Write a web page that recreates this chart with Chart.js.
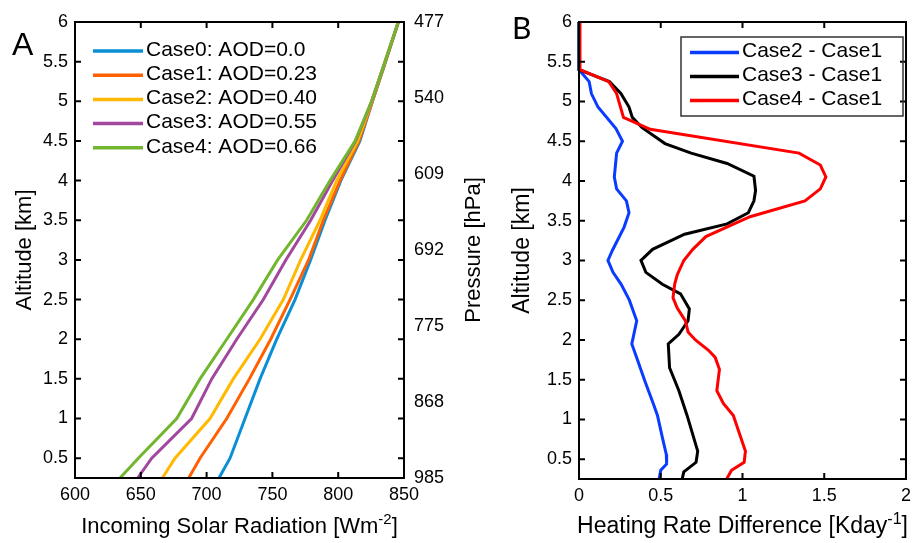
<!DOCTYPE html>
<html>
<head>
<meta charset="utf-8">
<script src="https://cdn.jsdelivr.net/npm/chart.js@4"></script>
<style>
  body { margin: 0; background: #fff; }
  #wrap { position: relative; width: 917px; height: 543px; overflow: hidden; }
  canvas { position: absolute; top: 0; }
  #chartA { left: 0; }
  #chartB { left: 495px; }
</style>
</head>
<body>
<div id="wrap">
  <canvas id="chartA" width="500" height="543"></canvas>
  <canvas id="chartB" width="422" height="543"></canvas>
</div>
<script>
// ---- panel A: incoming solar radiation vs altitude ----
const altA = [0.25, 0.5, 1, 1.5, 2, 2.5, 3, 3.5, 4, 4.5, 5, 5.5, 6];
const case0 = [709.4, 717.8, 729.2, 740.6, 753.3, 767.2, 779.0, 790.0, 802.0, 816.5, 826.0, 836.0, 845.7];
const case1 = [686.4, 695.0, 715.3, 732.5, 748.7, 763.4, 777.5, 788.7, 801.4, 815.8, 826.0, 836.0, 845.7];
const case2 = [666.4, 676.0, 702.6, 720.3, 740.6, 758.3, 771.5, 786.2, 798.8, 814.8, 825.5, 835.5, 845.7];
const case3 = [647.6, 658.3, 688.6, 703.9, 722.9, 743.1, 760.2, 779.1, 795.8, 813.2, 825.4, 835.6, 845.7];
const case4 = [634.2, 648.1, 677.3, 695.0, 715.3, 735.5, 754.0, 776.0, 793.8, 812.8, 825.4, 835.6, 845.7];
const labelsA = ['Case0: AOD=0.0', 'Case1: AOD=0.23', 'Case2: AOD=0.40', 'Case3: AOD=0.55', 'Case4: AOD=0.66'];
const colorsA = ['#0a8fd6', '#ff6100', '#ffb900', '#a2479e', '#72b62f'];
const altTicks = [0.5, 1, 1.5, 2, 2.5, 3, 3.5, 4, 4.5, 5, 5.5, 6];
const pressureLabels = ['477', '540', '609', '692', '775', '868', '985'];

// ---- panel B: heating rate differences ----
const altB2 = [6, 5.4, 5.25, 5.1, 4.93, 4.66, 4.5, 4.35, 4.05, 3.9, 3.75, 3.6, 3.42, 3.125, 3.0, 2.85, 2.7, 2.5, 2.24, 1.95, 1.74, 1.5, 1.2, 1.05, 0.77, 0.56, 0.44, 0.36, 0.25];
const diff21 = [0, 0, 0.062, 0.076, 0.116, 0.226, 0.266, 0.23, 0.216, 0.23, 0.29, 0.306, 0.276, 0.204, 0.177, 0.208, 0.258, 0.308, 0.353, 0.323, 0.359, 0.4, 0.454, 0.48, 0.51, 0.534, 0.536, 0.5, 0.49];
const altB3 = [6, 5.4, 5.25, 5.1, 4.93, 4.8, 4.67, 4.47, 4.35, 4.22, 4.06, 3.88, 3.75, 3.6, 3.46, 3.33, 3.14, 3.0, 2.85, 2.7, 2.58, 2.39, 2.24, 2.07, 1.95, 1.65, 1.36, 1.05, 0.6, 0.46, 0.34, 0.25];
const diff31 = [0, 0, 0.186, 0.256, 0.306, 0.326, 0.386, 0.526, 0.686, 0.906, 1.07, 1.08, 1.07, 1.036, 0.906, 0.646, 0.45, 0.379, 0.409, 0.51, 0.621, 0.675, 0.667, 0.611, 0.546, 0.554, 0.611, 0.661, 0.726, 0.716, 0.641, 0.631];
const altB4 = [6, 5.4, 5.25, 5.1, 4.8, 4.65, 4.35, 4.2, 4.05, 3.9, 3.75, 3.55, 3.3, 3.14, 3.0, 2.82, 2.7, 2.53, 2.4, 2.24, 2.1, 2.0, 1.87, 1.78, 1.63, 1.36, 1.2, 1.05, 0.77, 0.6, 0.46, 0.36, 0.25];
const diff41 = [0.006, 0.006, 0.182, 0.23, 0.272, 0.436, 1.346, 1.476, 1.51, 1.476, 1.382, 1.046, 0.776, 0.696, 0.641, 0.601, 0.585, 0.575, 0.601, 0.651, 0.667, 0.712, 0.792, 0.833, 0.859, 0.843, 0.883, 0.944, 0.99, 1.018, 1.01, 0.933, 0.903];
const labelsB = ['Case2 - Case1', 'Case3 - Case1', 'Case4 - Case1'];
const colorsB = ['#0a3cff', '#000000', '#ff0000'];

const FONT = '"Liberation Sans", Arial, Helvetica, sans-serif';

const pts = (xs, ys) => xs.map((v, i) => ({ x: v, y: ys[i] }));

// box, inward ticks, titles, legend, panel letter
const frame = {
  id: 'frame',
  afterDraw(chart, args, o) {
    const { ctx, chartArea: a } = chart;
    const sx = chart.scales.x, sy = chart.scales.y;
    ctx.save();
    ctx.strokeStyle = '#000';
    ctx.lineWidth = 2;
    ctx.beginPath();
    sx.ticks.forEach(t => {
      const p = sx.getPixelForValue(t.value);
      ctx.moveTo(p, a.bottom); ctx.lineTo(p, a.bottom - 6);
      ctx.moveTo(p, a.top); ctx.lineTo(p, a.top + 6);
    });
    sy.ticks.forEach(t => {
      const p = sy.getPixelForValue(t.value);
      ctx.moveTo(a.left, p); ctx.lineTo(a.left + 6, p);
      ctx.moveTo(a.right, p); ctx.lineTo(a.right - 6, p);
    });
    ctx.stroke();
    ctx.strokeRect(a.left, a.top, a.right - a.left, a.bottom - a.top);

    ctx.fillStyle = '#000';
    // x title with superscript
    const main = o.titleSize + 'px ' + FONT, small = Math.round(o.titleSize * 0.68) + 'px ' + FONT;
    let w = 0;
    o.xTitle.forEach(p => { ctx.font = p.sup ? small : main; w += ctx.measureText(p.t).width; });
    let x = (a.left + a.right) / 2 - w / 2;
    ctx.textAlign = 'left';
    ctx.textBaseline = 'alphabetic';
    o.xTitle.forEach(p => {
      ctx.font = p.sup ? small : main;
      ctx.fillText(p.t, x, p.sup ? o.xTitleY - 9 : o.xTitleY);
      x += ctx.measureText(p.t).width;
    });
    // rotated y titles
    ctx.font = main;
    ctx.textAlign = 'center';
    ctx.textBaseline = 'middle';
    o.yTitles.forEach(t => {
      ctx.save();
      ctx.translate(t.x, (a.top + a.bottom) / 2);
      ctx.rotate(-Math.PI / 2);
      ctx.fillText(t.text, 0, 0);
      ctx.restore();
    });
    // legend
    const lg = o.legend;
    if (lg.box) {
      ctx.lineWidth = 1.5;
      ctx.strokeStyle = '#333';
      ctx.strokeRect(lg.box[0], lg.box[1], lg.box[2], lg.box[3]);
    }
    ctx.font = '21px ' + FONT;
    ctx.textAlign = 'left';
    chart.data.datasets.forEach((d, i) => {
      const yy = lg.y + i * lg.step;
      ctx.strokeStyle = d.borderColor;
      ctx.lineWidth = 3.5;
      ctx.beginPath();
      ctx.moveTo(lg.x, yy); ctx.lineTo(lg.x + lg.len, yy);
      ctx.stroke();
      ctx.fillText(d.label, lg.x + lg.len + 3, yy - 1);
    });
    // panel letter
    ctx.font = o.letter.font;
    ctx.textBaseline = 'alphabetic';
    ctx.fillText(o.letter.text, o.letter.x, o.letter.y);
    ctx.restore();
  }
};

const tickFont = { family: FONT, size: 18 };
const fixed = size => (s => { if (s.isHorizontal()) s.height = size; else s.width = size; });

new Chart(document.getElementById('chartA'), {
  type: 'scatter',
  data: {
    datasets: [case0, case1, case2, case3, case4].map((vals, i) => ({
      label: labelsA[i],
      data: pts(vals, altA),
      showLine: true,
      borderColor: colorsA[i],
      borderWidth: 3,
      pointRadius: 0,
      clip: false,
      order: 4 - i
    }))
  },
  options: {
    responsive: false,
    animation: false,
    devicePixelRatio: 1,
    layout: { padding: { top: 22, left: 0, right: 0, bottom: 0 } },
    plugins: {
      legend: { display: false },
      tooltip: { enabled: false },
      frame: {
        titleSize: 22,
        xTitle: [{ t: 'Incoming Solar Radiation [Wm' }, { t: '-2', sup: true }, { t: ']' }],
        xTitleY: 533,
        yTitles: [{ text: 'Altitude [km]', x: 25 }, { text: 'Pressure [hPa]', x: 474 }],
        legend: { x: 93, y: 51, step: 24.2, len: 50 },
        letter: { text: 'A', x: 12, y: 55, font: '32px ' + FONT }
      }
    },
    scales: {
      x: {
        type: 'linear', position: 'bottom', min: 600, max: 850,
        ticks: { stepSize: 50, font: tickFont, color: '#000', padding: 6, maxRotation: 0, callback: v => String(v) },
        grid: { display: false, drawTicks: false }, border: { display: false },
        afterFit: fixed(65)
      },
      y: {
        type: 'linear', position: 'left', min: 0.25, max: 6,
        afterBuildTicks: s => { s.ticks = altTicks.map(v => ({ value: v })); },
        ticks: { font: tickFont, color: '#000', padding: 7, callback: v => String(v) },
        grid: { display: false, drawTicks: false }, border: { display: false },
        afterFit: fixed(75)
      },
      y2: {
        type: 'linear', position: 'right', min: 0, max: 6,
        afterBuildTicks: s => { s.ticks = pressureLabels.map((p, i) => ({ value: 6 - i })); },
        ticks: { font: tickFont, color: '#000', padding: 10, callback: v => pressureLabels[6 - v] },
        grid: { display: false, drawTicks: false }, border: { display: false },
        afterFit: fixed(96)
      }
    }
  },
  plugins: [frame]
});

new Chart(document.getElementById('chartB'), {
  type: 'scatter',
  data: {
    datasets: [[diff21, altB2], [diff31, altB3], [diff41, altB4]].map((s, i) => ({
      label: labelsB[i],
      data: pts(s[0], s[1]),
      showLine: true,
      borderColor: colorsB[i],
      borderWidth: 3,
      pointRadius: 0,
      clip: false,
      order: 2 - i
    }))
  },
  options: {
    responsive: false,
    animation: false,
    devicePixelRatio: 1,
    layout: { padding: { top: 22, left: 0, right: 8, bottom: 0 } },
    plugins: {
      legend: { display: false },
      tooltip: { enabled: false },
      frame: {
        titleSize: 23,
        xTitle: [{ t: 'Heating Rate Difference [Kday' }, { t: '-1', sup: true }, { t: ']' }],
        xTitleY: 533,
        yTitles: [{ text: 'Altitude [km]', x: 28 }],
        legend: { x: 195, y: 52.5, step: 24, len: 49, box: [186, 37, 222, 79] },
        letter: { text: 'B', x: 17, y: 39, font: '30px Lato, "Open Sans", sans-serif' }
      }
    },
    scales: {
      x: {
        type: 'linear', position: 'bottom', min: 0, max: 2,
        ticks: { stepSize: 0.5, font: tickFont, color: '#000', padding: 6, maxRotation: 0, callback: v => String(v) },
        grid: { display: false, drawTicks: false }, border: { display: false },
        afterFit: fixed(64)
      },
      y: {
        type: 'linear', position: 'left', min: 0.25, max: 6,
        afterBuildTicks: s => { s.ticks = altTicks.map(v => ({ value: v })); },
        ticks: { font: tickFont, color: '#000', padding: 7, callback: v => String(v) },
        grid: { display: false, drawTicks: false }, border: { display: false },
        afterFit: fixed(84)
      }
    }
  },
  plugins: [frame]
});
</script>
</body>
</html>
